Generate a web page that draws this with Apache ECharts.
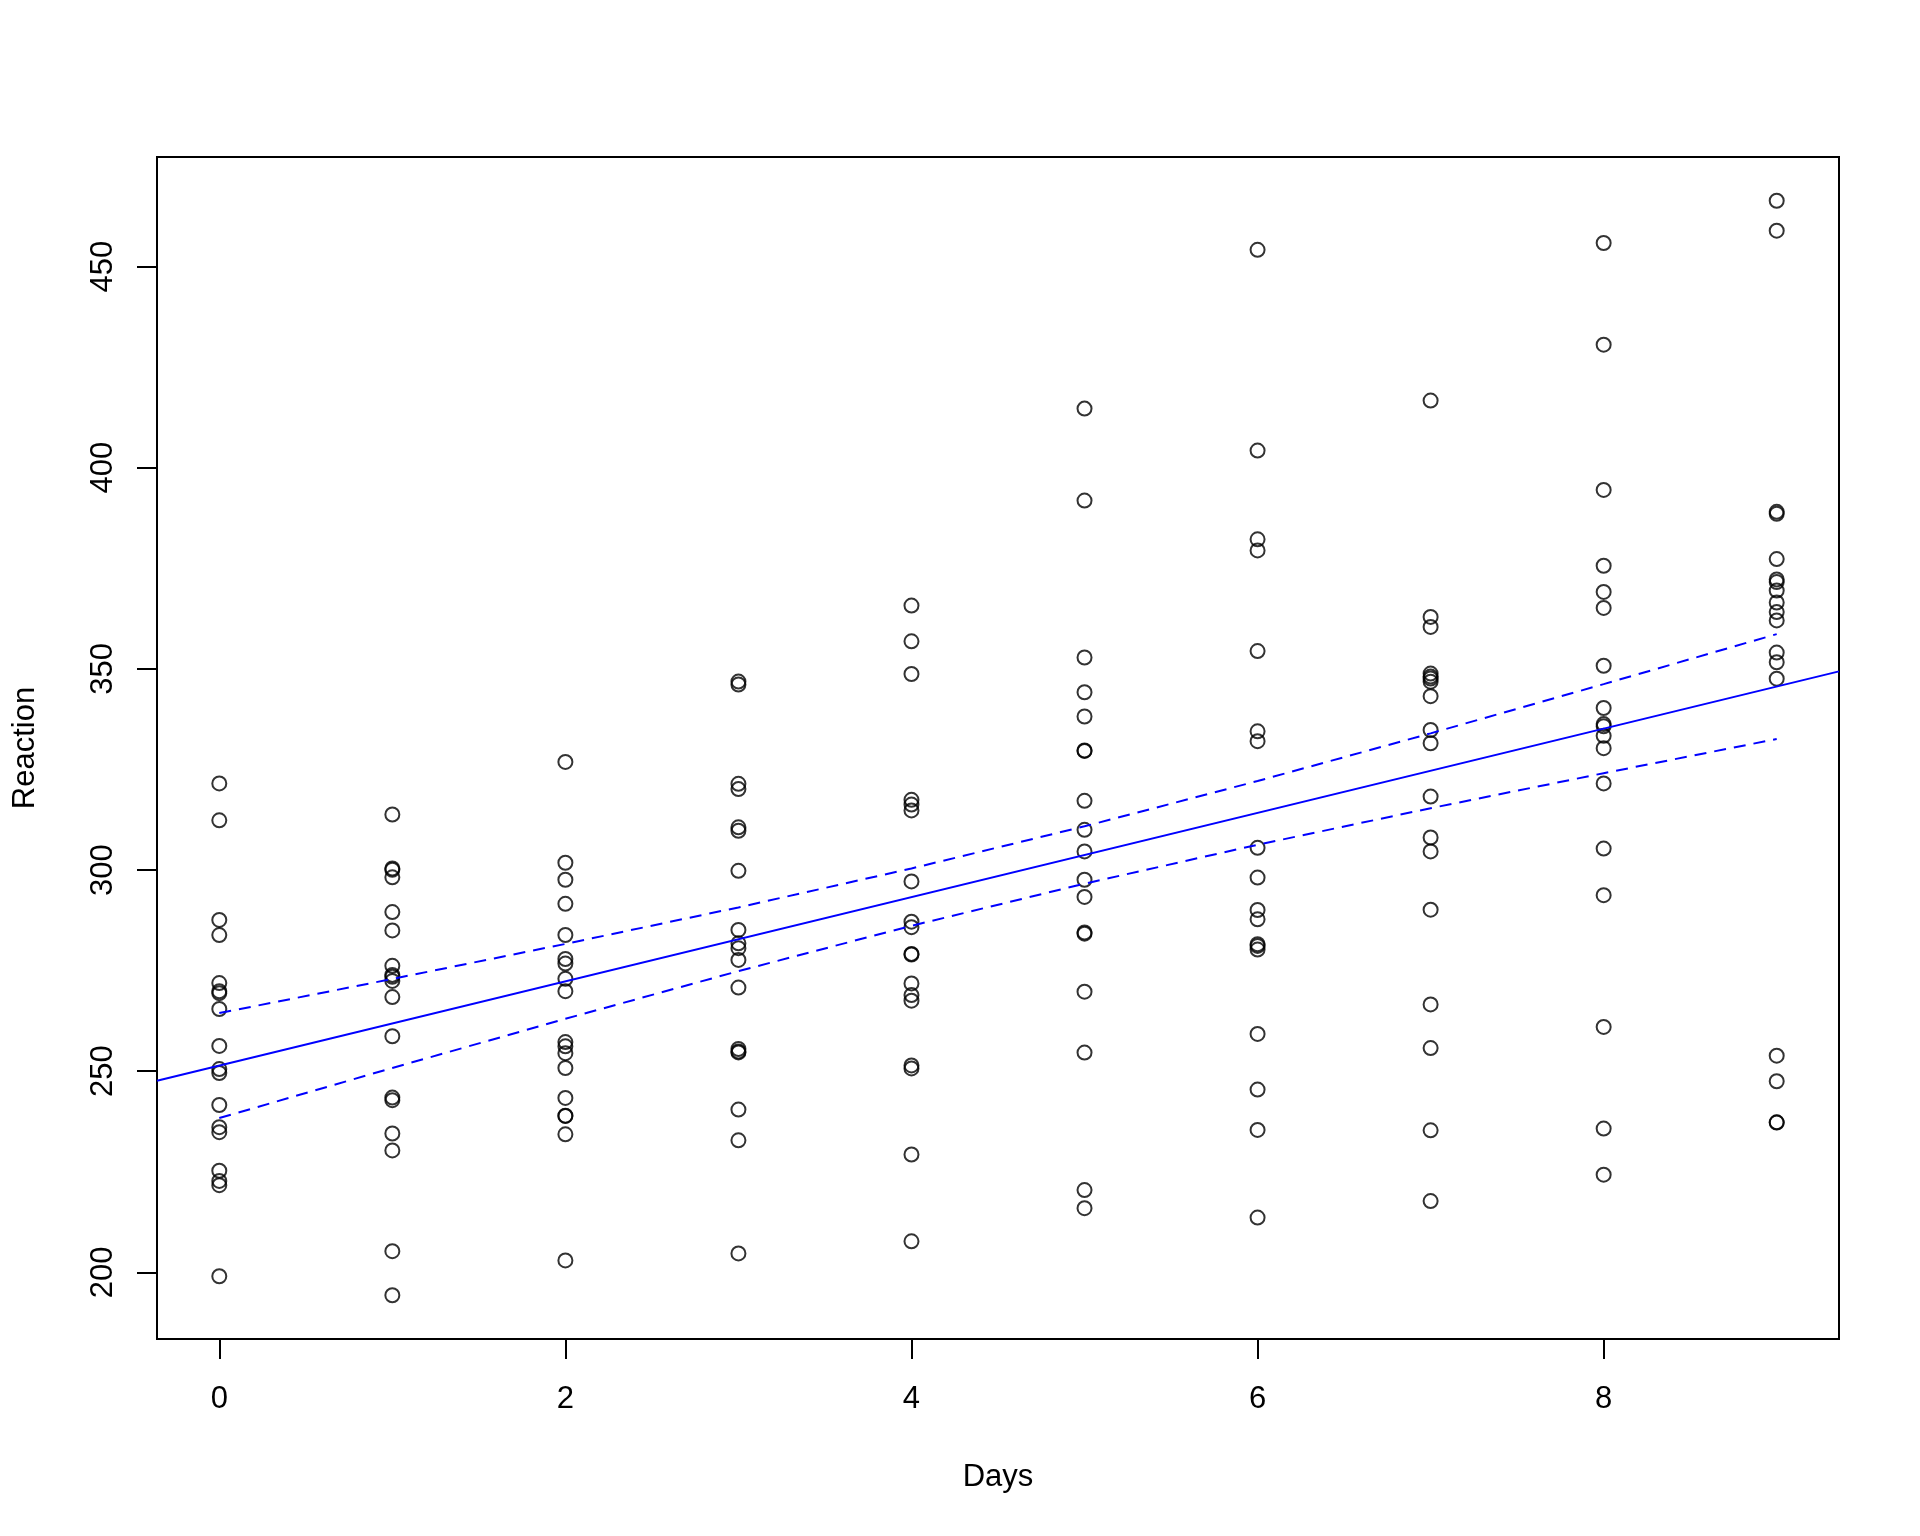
<!DOCTYPE html>
<html>
<head>
<meta charset="utf-8">
<script src="https://cdn.jsdelivr.net/npm/echarts@6/dist/echarts.min.js"></script>
<style>
html,body{margin:0;padding:0;background:#fff;}
#chart{width:1920px;height:1536px;}
</style>
</head>
<body>
<div id="chart"></div>
<script>
// Days 0..9
const days = [0, 1, 2, 3, 4, 5, 6, 7, 8, 9];
// Reaction values (ms) for 18 subjects, grouped by day
const reactionDay0 = [249.56, 222.73, 199.05, 321.54, 287.61, 234.86, 283.84, 265.47, 241.61, 312.37, 236.10, 256.30, 250.53, 221.68, 271.92, 225.26, 269.88, 269.41];
const reactionDay1 = [258.70, 205.27, 194.33, 300.40, 285.00, 242.81, 289.56, 276.20, 273.95, 313.81, 230.32, 243.45, 300.06, 298.19, 268.44, 234.52, 272.44, 273.47];
const reactionDay2 = [250.80, 202.98, 234.32, 283.86, 301.82, 272.96, 276.77, 243.36, 254.49, 291.61, 238.93, 256.20, 269.89, 326.88, 257.24, 238.90, 277.90, 297.60];
const reactionDay3 = [321.44, 204.71, 232.84, 285.13, 320.12, 309.77, 299.81, 254.67, 270.80, 346.12, 254.92, 255.53, 280.59, 346.86, 277.66, 240.47, 281.79, 310.63];
const reactionDay4 = [356.85, 207.72, 229.31, 285.80, 316.28, 317.46, 297.17, 279.02, 251.45, 365.73, 250.71, 268.92, 271.83, 348.74, 314.82, 267.54, 279.17, 287.17];
const reactionDay5 = [414.69, 215.96, 220.46, 297.59, 293.32, 310.00, 338.17, 284.19, 254.64, 391.84, 269.77, 329.72, 304.63, 352.83, 317.21, 344.19, 284.51, 329.61];
const reactionDay6 = [382.20, 213.63, 235.42, 280.24, 290.08, 454.16, 332.03, 305.52, 245.45, 404.26, 281.56, 379.44, 287.75, 354.43, 298.14, 281.15, 259.27, 334.48];
const reactionDay7 = [290.15, 217.73, 255.75, 318.26, 334.82, 346.83, 348.84, 331.52, 235.31, 416.69, 308.10, 362.92, 266.60, 360.43, 348.12, 347.59, 304.63, 343.22];
const reactionDay8 = [430.59, 224.30, 261.01, 305.35, 293.75, 330.30, 333.36, 335.75, 235.75, 455.86, 336.28, 394.49, 321.54, 375.64, 340.28, 365.16, 350.78, 369.14];
const reactionDay9 = [466.35, 237.31, 247.52, 354.05, 371.58, 253.86, 362.04, 377.30, 237.25, 458.92, 351.65, 389.05, 347.57, 388.54, 366.51, 372.23, 369.47, 364.12];
const reactionByDay = [reactionDay0, reactionDay1, reactionDay2, reactionDay3, reactionDay4, reactionDay5, reactionDay6, reactionDay7, reactionDay8, reactionDay9];

// Fitted regression line across the full plot width
const fitX = [-0.36, 9.36];
const fitY = [247.64, 349.38];
// Confidence band at each day
const bandUpper = [264.45, 272.94, 281.64, 290.72, 300.40, 310.87, 322.13, 333.98, 346.21, 358.65];
const bandLower = [238.36, 250.81, 263.03, 274.89, 286.15, 296.62, 306.29, 315.37, 324.08, 332.57];

const xTicks = [0, 2, 4, 6, 8];
const yTicks = [200, 250, 300, 350, 400, 450];

const points = [];
days.forEach((d, i) => reactionByDay[i].forEach(v => points.push([d, v])));

const font = 'Liberation Sans, Arial, Helvetica, sans-serif';
const chart = echarts.init(document.getElementById('chart'), null, {renderer: 'canvas'});
chart.setOption({
  animation: false,
  backgroundColor: '#fff',
  grid: {
    left: 157, top: 157, right: 81, bottom: 197,
    show: true, borderColor: '#000', borderWidth: 2, backgroundColor: 'transparent',
    containLabel: false
  },
  xAxis: {
    type: 'value', min: -0.36, max: 9.36,
    name: 'Days', nameLocation: 'middle', nameGap: 123,
    nameTextStyle: {fontFamily: font, fontSize: 31, color: '#000'},
    axisLine: {show: false, onZero: false},
    axisTick: {show: true, inside: false, length: 20, customValues: xTicks, lineStyle: {color: '#000', width: 2}},
    axisLabel: {show: true, customValues: xTicks, margin: 45, fontFamily: font, fontSize: 31, color: '#000'},
    splitLine: {show: false}
  },
  yAxis: {
    type: 'value', min: 183.45, max: 477.23,
    name: 'Reaction', nameLocation: 'middle', nameGap: 116, nameRotate: 90,
    nameTextStyle: {fontFamily: font, fontSize: 31, color: '#000'},
    axisLine: {show: false, onZero: false},
    axisTick: {show: true, inside: false, length: 20, customValues: yTicks, lineStyle: {color: '#000', width: 2}},
    axisLabel: {show: true, customValues: yTicks, rotate: 90, margin: 38, fontFamily: font, fontSize: 31, color: '#000'},
    splitLine: {show: false}
  },
  series: [
    {
      type: 'scatter', data: points, symbol: 'circle', symbolSize: 14,
      itemStyle: {color: 'rgba(0,0,0,0)', borderColor: '#000', borderWidth: 2},
      z: 2
    },
    {
      type: 'line', data: fitX.map((x, i) => [x, fitY[i]]), showSymbol: false, symbol: 'none',
      lineStyle: {color: '#0000ff', width: 2}, z: 3
    },
    {
      type: 'line', data: days.map((d, i) => [d, bandUpper[i]]), showSymbol: false, symbol: 'none',
      lineStyle: {color: '#0000ff', width: 2, type: [12, 8]}, z: 3
    },
    {
      type: 'line', data: days.map((d, i) => [d, bandLower[i]]), showSymbol: false, symbol: 'none',
      lineStyle: {color: '#0000ff', width: 2, type: [12, 8]}, z: 3
    }
  ]
});
</script>
</body>
</html>
